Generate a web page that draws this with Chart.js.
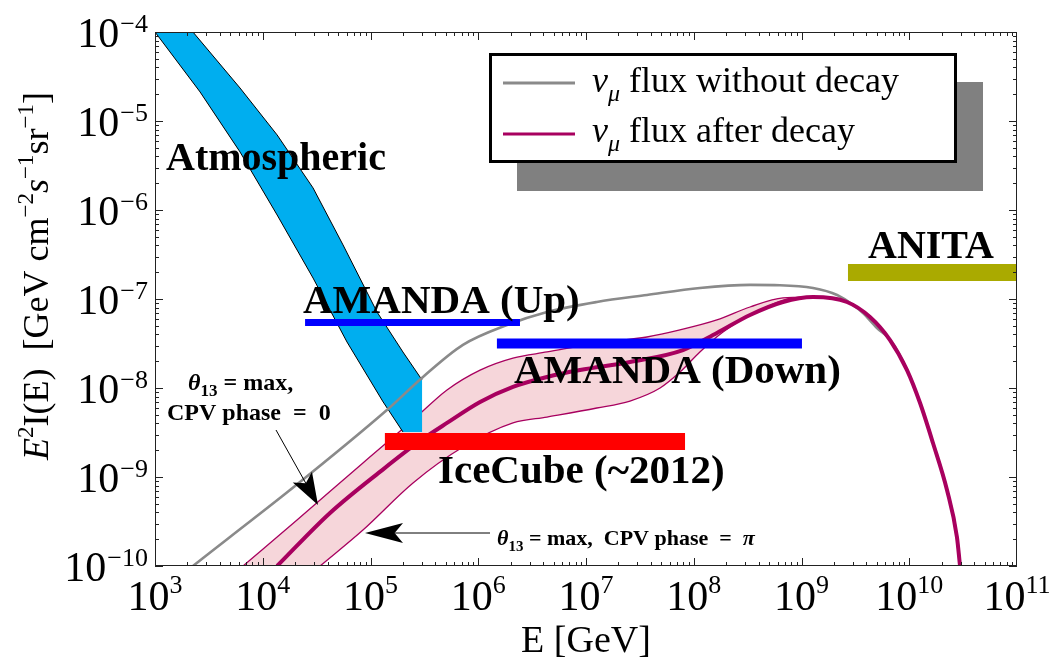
<!DOCTYPE html>
<html>
<head>
<meta charset="utf-8">
<script src="https://cdn.jsdelivr.net/npm/chart.js@4.4.1/dist/chart.umd.min.js"></script>
<style>
  html, body { margin: 0; padding: 0; background: #fff; }
  canvas { display: block; }
</style>
</head>
<body>
<canvas id="fluxChart" width="1058" height="662"></canvas>
<script>
// Decade ticks
const xTicks = [1e3, 1e4, 1e5, 1e6, 1e7, 1e8, 1e9, 1e10, 1e11];
const yTicks = [1e-10, 1e-9, 1e-8, 1e-7, 1e-6, 1e-5, 1e-4];

// nu_mu flux without decay (gray)
const noDecayE    = [2.25e3, 4.97e3, 1.79e4, 1.42e5, 3.07e5, 7.21e5, 1.85e6, 4.35e6, 1.26e7, 3.68e7, 1.14e8, 3.33e8, 6.31e8, 1.28e9, 2.14e9, 3.01e9, 3.72e9, 5.02e9, 6.63e9, 9.53e9, 1.26e10, 1.66e10, 2.24e10, 2.77e10, 2.96e10];
const noDecayFlux = [1e-10, 2.12e-10, 7.14e-10, 5.66e-9, 1.33e-8, 3.05e-8, 5.10e-8, 7.14e-8, 9.25e-8, 1.11e-7, 1.33e-7, 1.44e-7, 1.43e-7, 1.33e-7, 1.11e-7, 8.57e-8, 6.96e-8, 4.72e-8, 3.5e-8, 1.6e-8, 6.8e-9, 2.42e-9, 7.2e-10, 2.13e-10, 1e-10];

// nu_mu flux after decay (central curve)
const decayE    = [1.36e4, 4.21e4, 1.31e5, 2.88e5, 5.13e5, 1.04e6, 2.10e6, 4.35e6, 8.79e6, 2.56e7, 7.94e7, 1.64e8, 3.33e8, 6.73e8, 1.28e9, 2.64e9, 4.32e9, 6.63e9, 9.53e9, 1.26e10, 1.66e10, 2.24e10, 2.77e10, 2.96e10];
const decayFlux = [1e-10, 3.94e-10, 1.22e-9, 2.54e-9, 4.05e-9, 6.97e-9, 1.03e-8, 1.33e-8, 1.59e-8, 1.96e-8, 2.67e-8, 4.15e-8, 6.61e-8, 9.25e-8, 1.05e-7, 9.25e-8, 6.28e-8, 3.46e-8, 1.59e-8, 6.78e-9, 2.41e-9, 7.14e-10, 2.12e-10, 1e-10];

// after decay band (theta13 = max, CPV phase 0 / pi)
const bandUpE     = [6.56e3, 2.08e4, 8.51e4, 2.48e5, 5.13e5, 1.04e6, 2.10e6, 4.35e6, 1.26e7, 3.68e7, 7.45e7, 1.64e8, 3.33e8, 6.73e8, 1.28e9];
const bandUpFlux  = [1e-10, 3.29e-10, 1.44e-9, 4.37e-9, 9.51e-9, 1.59e-8, 2.17e-8, 2.54e-8, 3.20e-8, 3.74e-8, 4.49e-8, 5.81e-8, 8.13e-8, 1.03e-7, 1.05e-7];
const bandLowE    = [3.40e4, 8.51e4, 2.48e5, 7.21e5, 2.10e6, 4.35e6, 1.26e7, 2.56e7, 4.87e7, 7.45e7, 1.14e8, 1.87e8, 4.12e8, 8.34e8, 1.28e9];
const bandLowFlux = [1e-10, 2.54e-10, 8.57e-10, 2.17e-9, 4.05e-9, 4.72e-9, 5.96e-9, 7.14e-9, 1.0e-8, 1.51e-8, 2.54e-8, 4.26e-8, 7.52e-8, 1.03e-7, 1.05e-7];

// Atmospheric band
const atmUpE     = [1e3, 2.25e3, 6.15e3, 1.36e4, 2.93e4, 5.56e4, 1.15e5, 2.00e5, 3.01e5];
const atmUpFlux  = [1e-4, 1e-4, 2.35e-5, 6.97e-6, 1.77e-6, 4.05e-7, 7.14e-8, 2.54e-8, 1.23e-8];
const atmLowE    = [1e3, 2.62e3, 6.15e3, 1.36e4, 2.93e4, 6.05e4, 1.31e5, 2.00e5, 3.01e5];
const atmLowFlux = [1e-4, 2.12e-5, 4.49e-6, 8.79e-7, 1.72e-7, 3.29e-8, 6.97e-9, 3.21e-9, 3.21e-9];

// Experimental sensitivities (energy range, flux level)
const amandaUpE = [2.47e4, 2.44e6];   const amandaUpFlux = 5.45e-8;
const amandaDownE = [1.49e6, 1.01e9]; const amandaDownFlux = 3.16e-8;
const iceCubeE = [1.36e5, 8.3e7];     const iceCubeFlux = 2.51e-9;
const anitaE = [2.70e9, 1e11];        const anitaFlux = 1.99e-7;

const pts = (xs, ys) => xs.map((x, i) => ({x, y: Array.isArray(ys) ? ys[i] : ys}));

const SERIF = '"Liberation Serif", "Times New Roman", serif';
const MAGENTA = '#a8005f';
const CLEAR = 'rgba(0,0,0,0)';

const atmPoly = pts(atmUpE, atmUpFlux).concat(pts(atmLowE, atmLowFlux).reverse());

const curve = (data, color, width, order, extra) => Object.assign({
  data, borderColor: color, borderWidth: width, pointRadius: 0, fill: false, order,
  cubicInterpolationMode: 'monotone'
}, extra || {});
const bar = (xs, y, color, width) => curve(pts(xs, y), color, width, 1, {cubicInterpolationMode: 'default', tension: 0, borderCapStyle: 'butt'});

// draw a run of text pieces (for super/subscripts)
function drawParts(ctx, parts, x, y, align) {
  let w = 0;
  parts.forEach(p => { ctx.font = p.font; p.w = ctx.measureText(p.t).width + (p.gap || 0); w += p.w; });
  let cx = align === 'center' ? x - w / 2 : align === 'right' ? x - w : x;
  parts.forEach(p => { ctx.font = p.font; ctx.fillText(p.t, cx, y + (p.dy || 0)); cx += p.w; });
  return w;
}

function arrow(ctx, x0, y0, x1, y1, headLen, headHalf) {
  const L = Math.hypot(x1 - x0, y1 - y0), ux = (x1 - x0) / L, uy = (y1 - y0) / L;
  const bx = x1 - ux * headLen, by = y1 - uy * headLen;
  ctx.beginPath();
  ctx.moveTo(x0, y0);
  ctx.lineTo(bx + ux * 8, by + uy * 8);
  ctx.stroke();
  ctx.beginPath();
  ctx.moveTo(x1, y1);
  ctx.lineTo(bx - uy * headHalf, by + ux * headHalf);
  ctx.lineTo(bx + ux * headLen * 0.22, by + uy * headLen * 0.22);
  ctx.lineTo(bx + uy * headHalf, by - ux * headHalf);
  ctx.closePath();
  ctx.fill();
}

const decorations = {
  id: 'decorations',
  afterDraw(chart) {
    const ctx = chart.ctx;
    const {left, right, top, bottom} = chart.chartArea;
    const xs = chart.scales.x, ys = chart.scales.y;
    ctx.save();
    ctx.fillStyle = '#000';
    ctx.textBaseline = 'alphabetic';

    // frame + inward ticks
    ctx.strokeStyle = '#222';
    ctx.lineWidth = 1;
    ctx.strokeRect(left + 0.5, top + 0.5, right - left - 1, bottom - top - 1);
    ctx.beginPath();
    for (let k = 3; k < 11; k++) {
      for (let m = 1; m <= 9; m++) {
        const px = Math.round(xs.getPixelForValue(m * Math.pow(10, k))) + 0.5;
        const len = m === 1 ? 8 : 4;
        ctx.moveTo(px, bottom); ctx.lineTo(px, bottom - len);
        ctx.moveTo(px, top); ctx.lineTo(px, top + len);
      }
    }
    for (let k = -10; k < -4; k++) {
      for (let m = 1; m <= 9; m++) {
        const py = Math.round(ys.getPixelForValue(m * Math.pow(10, k))) + 0.5;
        const len = m === 1 ? 8 : 4;
        ctx.moveTo(left, py); ctx.lineTo(left + len, py);
        ctx.moveTo(right, py); ctx.lineTo(right - len, py);
      }
    }
    ctx.stroke();

    // tick labels
    const big = `42px ${SERIF}`, sup = `26px ${SERIF}`;
    xTicks.forEach(v => {
      const e = Math.round(Math.log10(v));
      drawParts(ctx, [{t: '10', font: big}, {t: String(e), font: sup, dy: -17}], xs.getPixelForValue(v), 610, 'center');
    });
    yTicks.forEach(v => {
      const e = Math.round(Math.log10(v));
      drawParts(ctx, [{t: '10', font: big, gap: 1}, {t: '\u2212' + (-e), font: sup, dy: -15}], 148, ys.getPixelForValue(v) + 15, 'right');
    });

    // axis titles
    drawParts(ctx, [{t: 'E [GeV]', font: `38px ${SERIF}`}], (left + right) / 2, 652, 'center');
    ctx.save();
    ctx.translate(48, 276);
    ctx.rotate(-Math.PI / 2);
    const m = `36px ${SERIF}`, mi = `italic 36px ${SERIF}`, s = `23px ${SERIF}`;
    drawParts(ctx, [
      {t: 'E', font: mi}, {t: '2', font: s, dy: -15}, {t: 'I(E)  [GeV cm', font: m},
      {t: '\u22122', font: s, dy: -15}, {t: 's', font: mi}, {t: '\u22121', font: s, dy: -15},
      {t: 'sr', font: m}, {t: '\u22121', font: s, dy: -15}, {t: ']', font: m}
    ], 0, 0, 'center');
    ctx.restore();

    // labels
    const bold = sz => `bold ${sz}px ${SERIF}`;
    ctx.font = bold(40); ctx.fillText('Atmospheric', 166, 170);
    ctx.font = bold(41); ctx.fillText('AMANDA (Up)', 303, 313);
    ctx.fillText('AMANDA (Down)', 514, 383);
    ctx.fillText('IceCube (~2012)', 438, 483);
    ctx.font = bold(40); ctx.fillText('ANITA', 868, 258);

    // annotations
    const a = `bold 24px ${SERIF}`, ai = `italic bold 24px ${SERIF}`, asub = `bold 17px ${SERIF}`;
    drawParts(ctx, [{t: '\u03b8', font: ai}, {t: '13', font: asub, dy: 6}, {t: ' = max,', font: a}], 188, 390, 'left');
    drawParts(ctx, [{t: 'CPV phase  =  0', font: a}], 167, 420, 'left');
    const b = `bold 22px ${SERIF}`, bi = `italic bold 22px ${SERIF}`, bsub = `bold 15px ${SERIF}`;
    drawParts(ctx, [{t: '\u03b8', font: bi}, {t: '13', font: bsub, dy: 6}, {t: ' = max,  CPV phase  =  ', font: b}, {t: '\u03c0', font: bi}], 497, 545, 'left');

    ctx.strokeStyle = '#000';
    ctx.lineWidth = 1;
    arrow(ctx, 276, 430, 318, 505, 32, 11);
    arrow(ctx, 490, 533, 365, 533, 38, 10);

    // legend with shadow
    ctx.fillStyle = '#808080';
    ctx.fillRect(517, 82, 466, 109);
    ctx.fillStyle = '#fff';
    ctx.fillRect(489, 53, 468, 110);
    ctx.strokeStyle = '#000';
    ctx.lineWidth = 3;
    ctx.strokeRect(490.5, 54.5, 465, 107);
    ctx.strokeStyle = '#8a8a8a';
    ctx.beginPath(); ctx.moveTo(503, 83); ctx.lineTo(575, 83); ctx.stroke();
    ctx.strokeStyle = MAGENTA;
    ctx.beginPath(); ctx.moveTo(503, 134); ctx.lineTo(575, 134); ctx.stroke();
    ctx.fillStyle = '#000';
    const lf = `36px ${SERIF}`, lfi = `italic 36px ${SERIF}`, lsub = `italic 24px ${SERIF}`;
    drawParts(ctx, [{t: '\u03bd', font: lfi}, {t: '\u03bc', font: lsub, dy: 9}, {t: ' flux without decay', font: lf}], 592, 92, 'left');
    drawParts(ctx, [{t: '\u03bd', font: lfi}, {t: '\u03bc', font: lsub, dy: 9}, {t: ' flux after decay', font: lf}], 592, 142, 'left');
    ctx.restore();
  }
};

new Chart(document.getElementById('fluxChart'), {
  type: 'line',
  data: {
    datasets: [
      // band: pink below the upper edge, white below the lower edge
      curve(pts(bandUpE, bandUpFlux), MAGENTA, 1.3, 6, {fill: 'start', backgroundColor: '#f6d6da'}),
      curve(atmPoly, CLEAR, 0, 5.8, {cubicInterpolationMode: 'default', tension: 0, fill: 'shape', backgroundColor: '#00aeef'}),
      curve(pts(atmUpE, atmUpFlux), '#000', 1, 5.7, {cubicInterpolationMode: 'default', tension: 0}),
      curve(pts(atmLowE.slice(0, -1), atmLowFlux.slice(0, -1)), '#000', 1, 5.7, {cubicInterpolationMode: 'default', tension: 0}),
      curve(pts(bandLowE, bandLowFlux), MAGENTA, 1.3, 5, {fill: 'start', backgroundColor: '#ffffff'}),
      curve(pts(noDecayE, noDecayFlux), '#8a8a8a', 2.6, 4.5),
      curve(pts(decayE, decayFlux), MAGENTA, 4, 3),
      bar(amandaUpE, amandaUpFlux, '#0000ff', 7),
      bar(amandaDownE, amandaDownFlux, '#0000ff', 10),
      bar(iceCubeE, iceCubeFlux, '#ff0000', 17),
      bar(anitaE, anitaFlux, '#aaaa00', 17)
    ]
  },
  options: {
    responsive: false,
    animation: false,
    layout: {padding: {left: 155, right: 41, top: 32, bottom: 96}},
    scales: {
      x: {type: 'logarithmic', min: 1e3, max: 1e11, display: false},
      y: {type: 'logarithmic', min: 1e-10, max: 1e-4, display: false}
    },
    plugins: {legend: {display: false}, tooltip: {enabled: false}}
  },
  plugins: [decorations]
});
</script>
</body>
</html>
